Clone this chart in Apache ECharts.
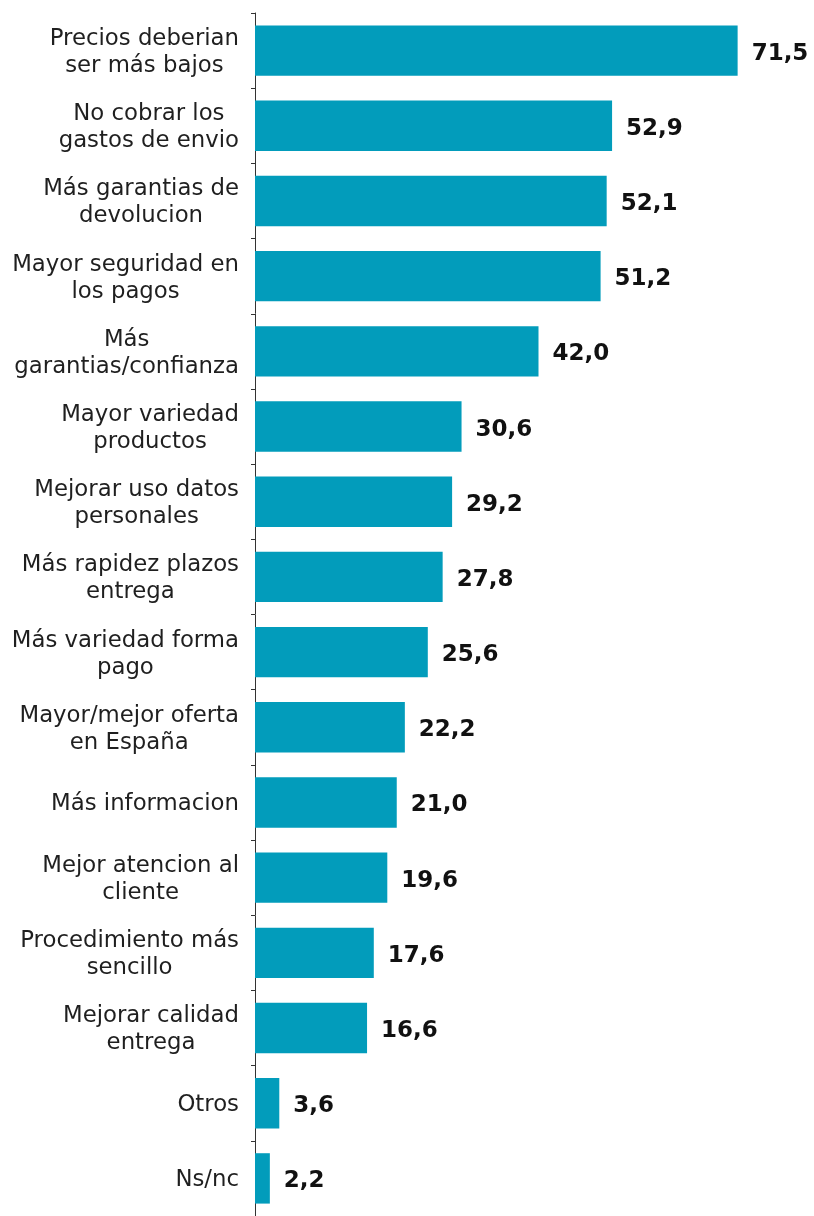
<!DOCTYPE html>
<html>
<head>
<meta charset="utf-8">
<script src="https://cdn.jsdelivr.net/npm/echarts@6/dist/echarts.min.js"></script>
<style>
  html, body { margin: 0; padding: 0; background: #ffffff; }
  #chart { width: 814px; height: 1216px; }
</style>
</head>
<body>
<div id="chart"></div>
<script>
// Motivos para comprar más por internet (%)
const categories = [
  'Precios deberian\nser más bajos',
  'No cobrar los\ngastos de envio',
  'Más garantias de\ndevolucion',
  'Mayor seguridad en\nlos pagos',
  'Más\ngarantias/confianza',
  'Mayor variedad\nproductos',
  'Mejorar uso datos\npersonales',
  'Más rapidez plazos\nentrega',
  'Más variedad forma\npago',
  'Mayor/mejor oferta\nen España',
  'Más informacion',
  'Mejor atencion al\ncliente',
  'Procedimiento más\nsencillo',
  'Mejorar calidad\nentrega',
  'Otros',
  'Ns/nc'
];
const values = [71.5, 52.9, 52.1, 51.2, 42.0, 30.6, 29.2, 27.8, 25.6, 22.2, 21.0, 19.6, 17.6, 16.6, 3.6, 2.2];

const chart = echarts.init(document.getElementById('chart'), null, { renderer: 'canvas' });

chart.setOption({
  animation: false,
  backgroundColor: '#ffffff',
  grid: { left: 255, right: 19, top: 13, height: 1211, containLabel: false },
  xAxis: {
    type: 'value',
    min: 0,
    max: 80,
    show: false
  },
  yAxis: {
    type: 'category',
    data: categories,
    inverse: true,
    axisLine: { show: true, lineStyle: { color: '#333333', width: 1 } },
    axisTick: { show: true, length: 4, lineStyle: { color: '#333333', width: 1 } },
    axisLabel: {
      margin: 16,
      align: 'right',
      padding: [4, 0, 0, 0],
      formatter: function (v) {
        return v.split('\n').map(function (s) { return '{c|' + s + '}'; }).join('\n');
      },
      rich: {
        c: {
          align: 'center',
          fontFamily: 'DejaVu Sans',
          fontSize: 22.8,
          lineHeight: 27,
          color: '#1f1f1f'
        }
      }
    },
    splitLine: { show: false }
  },
  series: [{
    type: 'bar',
    data: values,
    barCategoryGap: '33%',
    itemStyle: { color: '#029cbb' },
    label: {
      show: true,
      position: 'right',
      distance: 14,
      offset: [0, 3],
      fontFamily: 'DejaVu Sans',
      fontWeight: 'bold',
      fontSize: 23,
      color: '#111111',
      formatter: function (p) {
        return p.value.toFixed(1).replace('.', ',');
      }
    }
  }]
});
</script>
</body>
</html>
